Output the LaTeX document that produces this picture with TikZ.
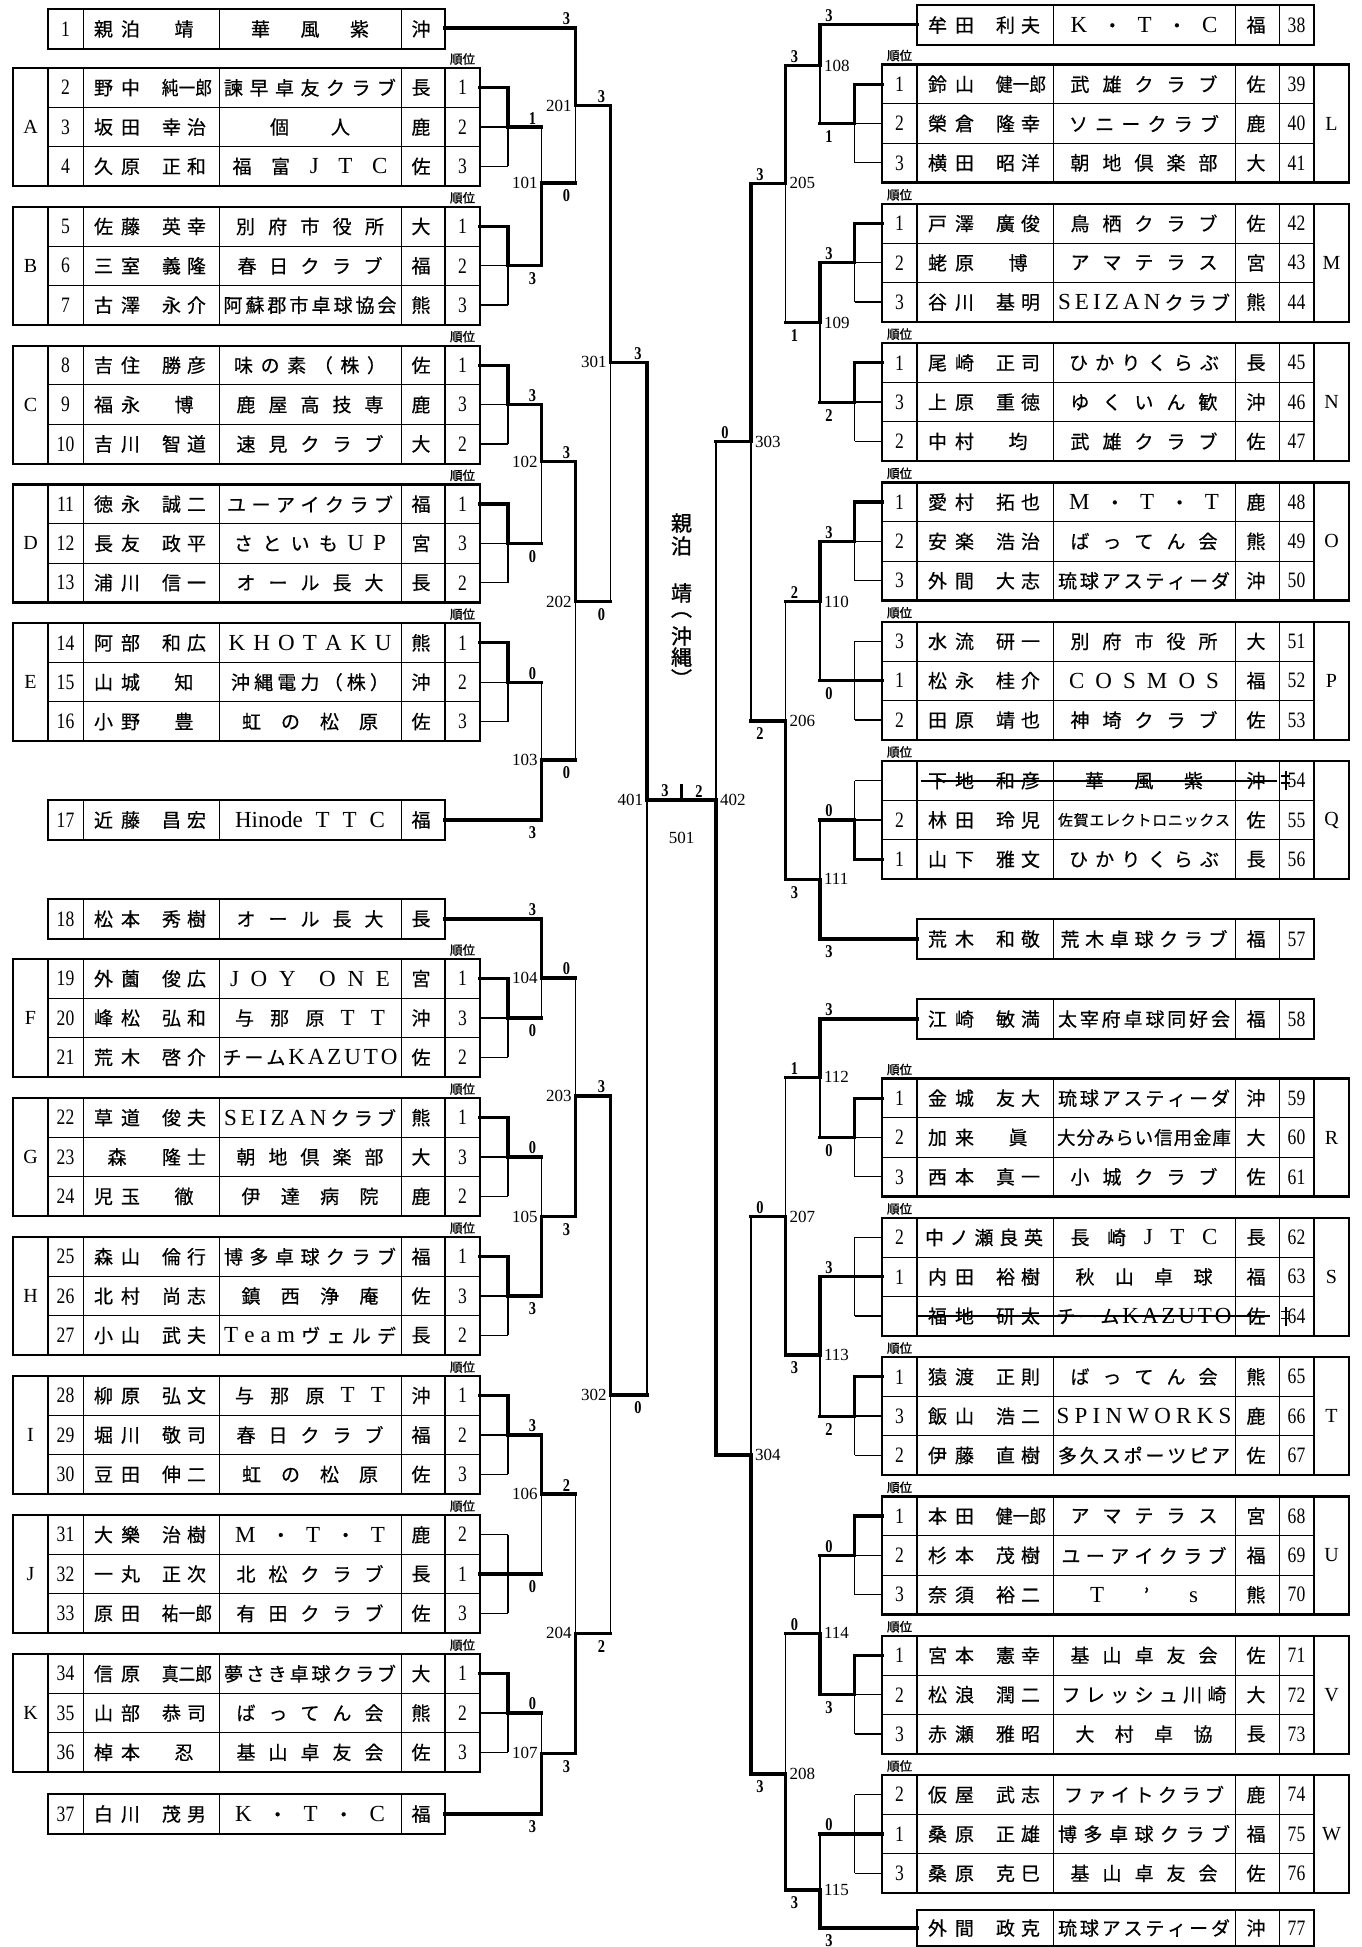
\documentclass[tikz,border=0pt]{standalone}
\usepackage{fontspec}
\setmainfont{Liberation Serif}
\newfontfamily\jpfam[FakeBold=0.5]{Noto Sans CJK JP}
\newfontfamily\jpnarrow[FakeStretch=0.88,FakeBold=0.5]{Noto Sans CJK JP}
\newfontfamily\jpbfam[FakeBold=1.2]{Noto Sans CJK JP}
\newfontfamily\numfam[FakeStretch=0.8]{Liberation Serif}
\newfontfamily\latfam{Liberation Serif}
\newcommand\JP{\jpfam\fontsize{19pt}{19pt}\selectfont}
\newcommand\JPB{\jpbfam\fontsize{21pt}{21pt}\selectfont}
\newcommand\JU{\jpbfam\fontsize{12.5pt}{13pt}\selectfont}
\newcommand\NUM{\numfam\fontsize{22pt}{22pt}\selectfont}
\newcommand\SCO{\numfam\bfseries\fontsize{18pt}{18pt}\selectfont}
\newcommand\MNO{\latfam\fontsize{17pt}{17pt}\selectfont}
\newcommand\LET{\latfam\fontsize{20pt}{20pt}\selectfont}
\newcommand\lt[1]{{\latfam\fontsize{23pt}{23pt}\selectfont #1}}
\newcommand\one[1]{\hfil #1\hfil}
\makeatletter
\def\sp#1{\sp@a#1|\relax|}
\def\sp@a#1|{#1\sp@b}
\def\sp@b#1|{\ifx\relax#1\else\hfil #1\expandafter\sp@b\fi}
\makeatother
\newcommand\nm[2]{\hbox to 136pt{\hskip 11pt\hbox to 46pt{\sp{#1}}\hfil\hbox to 44pt{\sp{#2}}\hskip 13pt}}
\newcommand\nmc[2]{\hbox to 136pt{\hskip 11pt\hbox to 46pt{\sp{#1}}\hfil{\jpnarrow\fontsize{19pt}{19pt}\selectfont #2}\hskip 7pt}}
\newcommand\nmw[1]{\hbox to 136pt{\hskip 8pt\hbox to 118pt{\sp{#1}}\hss}}
\newcommand\cs[2]{\hbox to #1pt{\sp{#2}}}
\tikzset{
 every node/.style={inner sep=0pt,outer sep=0pt},
 tx/.style={font=\JP},
 nu/.style={font=\NUM},
 le/.style={font=\LET},
 sc/.style={font=\SCO},
 mn/.style={font=\MNO},
 ju/.style={font=\JU},
 frame/.style={line width=2.2pt},
 inner/.style={line width=1pt},
 mid/.style={line width=1.7pt},
 win/.style={line width=3.2pt,line cap=rect},
 lose/.style={line width=1.3pt},
 strike/.style={line width=1.8pt}
}
% left group frame
\newcommand\LG[2]{%
 \draw[inner] (48,#1+39.33) -- (480,#1+39.33) (48,#1+78.67) -- (480,#1+78.67)
   (83,#1) -- (83,#1+118) (219,#1) -- (219,#1+118) (401,#1) -- (401,#1+118);
 \draw[mid] (48,#1) -- (48,#1+118) (445,#1) -- (445,#1+118);
 \draw[frame] (13,#1) rectangle (480,#1+118);
 \node[le] (grp#2) at (30.5,#1+59) {#2};
 \node[ju] (ju#2) at (462.5,#1-9) {順位};}
\newcommand\LR[6]{%
 \node[nu] (num#2) at (65.5,#1) {#2};
 \node[tx] (name#2) at (151,#1) {#3};
 \node[tx] (club#2) at (310,#1) {#4};
 \node[tx] (pref#2) at (421,#1) {#5};
 \node[nu] (rank#2) at (462.5,#1) {#6};}
\newcommand\LS[5]{%
 \draw[inner] (83,#1) -- (83,#1+40) (219,#1) -- (219,#1+40) (401,#1) -- (401,#1+40);
 \draw[frame] (48,#1) rectangle (445,#1+40);
 \node[nu] (num#2) at (65.5,#1+20) {#2};
 \node[tx] (name#2) at (151,#1+20) {#3};
 \node[tx] (club#2) at (310,#1+20) {#4};
 \node[tx] (pref#2) at (421,#1+20) {#5};}
% right group frame
\newcommand\RG[2]{%
 \draw[inner] (882,#1+39.33) -- (1314,#1+39.33) (882,#1+78.67) -- (1314,#1+78.67)
   (1053,#1) -- (1053,#1+118) (1235,#1) -- (1235,#1+118) (1279,#1) -- (1279,#1+118);
 \draw[mid] (917,#1) -- (917,#1+118) (1314,#1) -- (1314,#1+118);
 \draw[frame] (882,#1) rectangle (1349,#1+118);
 \node[le] (grp#2) at (1331.5,#1+59) {#2};
 \node[ju] (ju#2) at (899.5,#1-9) {順位};}
\newcommand\RR[6]{%
 \node[nu] (rank#6) at (899.5,#1) {#2};
 \node[tx] (name#6) at (985,#1) {#3};
 \node[tx] (club#6) at (1144,#1) {#4};
 \node[tx] (pref#6) at (1256,#1) {#5};
 \node[nu] (num#6) at (1296.5,#1) {#6};}
\newcommand\RS[6][40]{%
 \draw[inner] (1053,#2) -- (1053,#2+#1) (1235,#2) -- (1235,#2+#1) (1279,#2) -- (1279,#2+#1);
 \draw[frame] (917,#2) rectangle (1314,#2+#1);
 \node[tx] (name#6) at (985,#2+#1/2) {#3};
 \node[tx] (club#6) at (1144,#2+#1/2) {#4};
 \node[tx] (pref#6) at (1256,#2+#1/2) {#5};
 \node[nu] (num#6) at (1296.5,#2+#1/2) {#6};}
% group brackets
\newcommand\GL[2]{%
 \draw[lose] (480,#1+19.67) -- (508,#1+19.67) (480,#1+59) -- (508,#1+59)
   (480,#1+98.33) -- (508,#1+98.33) (508,#1+19.67) -- (508,#1+98.33);
 \draw[win] (480,#1+#2) -- (508,#1+#2) -- (508,#1+59) -- (541.5,#1+59);}
\newcommand\GR[2]{%
 \draw[lose] (882,#1+19.67) -- (854.5,#1+19.67) (882,#1+59) -- (854.5,#1+59)
   (882,#1+98.33) -- (854.5,#1+98.33) (854.5,#1+19.67) -- (854.5,#1+98.33);
 \draw[win] (882,#1+#2) -- (854.5,#1+#2) -- (854.5,#1+59) -- (820,#1+59);}
% matches: vx, ytop, yout, ybottom, next x
\newcommand\Mt[5]{\draw[lose] (#1,#3) -- (#1,#4); \draw[win] (#1,#2) -- (#1,#3) -- (#5,#3);}
\newcommand\Mb[5]{\draw[lose] (#1,#2) -- (#1,#3); \draw[win] (#1,#4) -- (#1,#3) -- (#5,#3);}
\newcommand\Sa[3]{\node[sc,anchor=south] at (#1,#2-3) {#3};}
\newcommand\Sb[3]{\node[sc,anchor=north] at (#1,#2+7) {#3};}
\newcommand\ML[3]{\node[mn,anchor=east] (m#3) at (#1-4,#2) {#3};}
\newcommand\MR[3]{\node[mn,anchor=west] (m#3) at (#1+4,#2) {#3};}
\begin{document}
\begin{tikzpicture}[x=1pt,y=-1pt]
\path[use as bounding box,fill=white] (0,0) rectangle (1362,1947);

%================ LEFT TABLES ================
\LS{9}{1}{\nm{親|泊}{\one{靖}}}{\cs{118}{華|風|紫}}{沖}
\LG{68}{A}
\LR{87.67}{2}{\nmc{野|中}{純一郎}}{\cs{172}{諫|早|卓|友|ク|ラ|ブ}}{長}{1}
\LR{127}{3}{\nm{坂|田}{幸|治}}{\cs{80}{個|人}}{鹿}{2}
\LR{166.33}{4}{\nm{久|原}{正|和}}{\cs{155}{福|富|\lt{J}|\lt{T}|\lt{C}}}{佐}{3}
\LG{206.8}{B}
\LR{226.47}{5}{\nm{佐|藤}{英|幸}}{\cs{148}{別|府|市|役|所}}{大}{1}
\LR{265.8}{6}{\nm{三|室}{義|隆}}{\cs{145}{春|日|ク|ラ|ブ}}{福}{2}
\LR{305.13}{7}{\nm{古|澤}{永|介}}{\cs{173}{阿|蘇|郡|市|卓|球|協|会}}{熊}{3}
\LG{345.6}{C}
\LR{365.27}{8}{\nm{吉|住}{勝|彦}}{\cs{152}{味|の|素|（|株|）}}{佐}{1}
\LR{404.6}{9}{\nm{福|永}{\one{博}}}{\cs{147}{鹿|屋|高|技|専}}{鹿}{3}
\LR{443.93}{10}{\nm{吉|川}{智|道}}{\cs{147}{速|見|ク|ラ|ブ}}{大}{2}
\LG{484.4}{D}
\LR{504.07}{11}{\nm{徳|永}{誠|二}}{\cs{166}{ユ|ー|ア|イ|ク|ラ|ブ}}{福}{1}
\LR{543.4}{12}{\nm{長|友}{政|平}}{\cs{152}{さ|と|い|も|\lt{U}|\lt{P}}}{宮}{3}
\LR{582.73}{13}{\nm{浦|川}{信|一}}{\cs{147}{オ|ー|ル|長|大}}{長}{2}
\LG{623.2}{E}
\LR{642.87}{14}{\nm{阿|部}{和|広}}{\cs{163}{\lt{K}|\lt{H}|\lt{O}|\lt{T}|\lt{A}|\lt{K}|\lt{U}}}{熊}{1}
\LR{682.2}{15}{\nm{山|城}{\one{知}}}{\cs{158}{沖|縄|電|力|（|株|）}}{沖}{2}
\LR{721.53}{16}{\nm{小|野}{\one{豊}}}{\cs{136}{虹|の|松|原}}{佐}{3}
\LS{800}{17}{\nm{近|藤}{昌|宏}}{\cs{150}{\lt{Hinode}|\lt{T}|\lt{T}|\lt{C}}}{福}
\LS{899}{18}{\nm{松|本}{秀|樹}}{\cs{147}{オ|ー|ル|長|大}}{長}
\LG{959}{F}
\LR{978.67}{19}{\nm{外|薗}{俊|広}}{\cs{160}{\lt{J}|\lt{O}|\lt{Y}|\null|\lt{O}|\lt{N}|\lt{E}}}{宮}{1}
\LR{1018}{20}{\nm{峰|松}{弘|和}}{\cs{150}{与|那|原|\lt{T}|\lt{T}}}{沖}{3}
\LR{1057.33}{21}{\nm{荒|木}{啓|介}}{\cs{175}{チ|ー|ム|\lt{K}|\lt{A}|\lt{Z}|\lt{U}|\lt{T}|\lt{O}}}{佐}{2}
\LG{1098}{G}
\LR{1117.67}{22}{\nm{草|道}{俊|夫}}{\cs{172}{\lt{S}|\lt{E}|\lt{I}|\lt{Z}|\lt{A}|\lt{N}|ク|ラ|ブ}}{熊}{1}
\LR{1157}{23}{\nm{\one{森}}{隆|士}}{\cs{147}{朝|地|倶|楽|部}}{大}{3}
\LR{1196.33}{24}{\nm{児|玉}{\one{徹}}}{\cs{137}{伊|達|病|院}}{鹿}{2}
\LG{1237}{H}
\LR{1256.67}{25}{\nm{森|山}{倫|行}}{\cs{172}{博|多|卓|球|ク|ラ|ブ}}{福}{1}
\LR{1296}{26}{\nm{北|村}{尚|志}}{\cs{137}{鎮|西|浄|庵}}{佐}{3}
\LR{1335.33}{27}{\nm{小|山}{武|夫}}{\cs{172}{\lt{T}|\lt{e}|\lt{a}|\lt{m}|ヴ|ェ|ル|デ}}{長}{2}
\LG{1376}{I}
\LR{1395.67}{28}{\nm{柳|原}{弘|文}}{\cs{150}{与|那|原|\lt{T}|\lt{T}}}{沖}{1}
\LR{1435}{29}{\nm{堀|川}{敬|司}}{\cs{147}{春|日|ク|ラ|ブ}}{福}{2}
\LR{1474.33}{30}{\nm{豆|田}{伸|二}}{\cs{136}{虹|の|松|原}}{佐}{3}
\LG{1515}{J}
\LR{1534.67}{31}{\nm{大|樂}{治|樹}}{\cs{150}{\lt{M}|・|\lt{T}|・|\lt{T}}}{鹿}{2}
\LR{1574}{32}{\nm{一|丸}{正|次}}{\cs{147}{北|松|ク|ラ|ブ}}{長}{1}
\LR{1613.33}{33}{\nmc{原|田}{祐一郎}}{\cs{147}{有|田|ク|ラ|ブ}}{佐}{3}
\LG{1654}{K}
\LR{1673.67}{34}{\nmc{信|原}{真二郎}}{\cs{172}{夢|さ|き|卓|球|ク|ラ|ブ}}{大}{1}
\LR{1713}{35}{\nm{山|部}{恭|司}}{\cs{147}{ば|っ|て|ん|会}}{熊}{2}
\LR{1752.33}{36}{\nm{棹|本}{\one{忍}}}{\cs{147}{基|山|卓|友|会}}{佐}{3}
\LS{1794}{37}{\nm{白|川}{茂|男}}{\cs{150}{\lt{K}|・|\lt{T}|・|\lt{C}}}{福}

%================ RIGHT TABLES ================
\RS{5}{\nm{牟|田}{利|夫}}{\cs{147}{\lt{K}|・|\lt{T}|・|\lt{C}}}{福}{38}
\RG{64.5}{L}
\RR{84.17}{1}{\nmc{鈴|山}{健一郎}}{\cs{147}{武|雄|ク|ラ|ブ}}{佐}{39}
\RR{123.5}{2}{\nm{榮|倉}{隆|幸}}{\cs{150}{ソ|ニ|ー|ク|ラ|ブ}}{鹿}{40}
\RR{162.83}{3}{\nm{横|田}{昭|洋}}{\cs{147}{朝|地|倶|楽|部}}{大}{41}
\RG{203.8}{M}
\RR{223.47}{1}{\nm{戸|澤}{廣|俊}}{\cs{147}{鳥|栖|ク|ラ|ブ}}{佐}{42}
\RR{262.8}{2}{\nm{蛯|原}{\one{博}}}{\cs{147}{ア|マ|テ|ラ|ス}}{宮}{43}
\RR{302.13}{3}{\nm{谷|川}{基|明}}{\cs{172}{\lt{S}|\lt{E}|\lt{I}|\lt{Z}|\lt{A}|\lt{N}|ク|ラ|ブ}}{熊}{44}
\RG{343.1}{N}
\RR{362.77}{1}{\nm{尾|崎}{正|司}}{\cs{150}{ひ|か|り|く|ら|ぶ}}{長}{45}
\RR{402.1}{3}{\nm{上|原}{重|徳}}{\cs{147}{ゆ|く|い|ん|歓}}{沖}{46}
\RR{441.43}{2}{\nm{中|村}{\one{均}}}{\cs{147}{武|雄|ク|ラ|ブ}}{佐}{47}
\RG{482.4}{O}
\RR{502.07}{1}{\nm{愛|村}{拓|也}}{\cs{150}{\lt{M}|・|\lt{T}|・|\lt{T}}}{鹿}{48}
\RR{541.4}{2}{\nm{安|楽}{浩|治}}{\cs{147}{ば|っ|て|ん|会}}{熊}{49}
\RR{580.73}{3}{\nm{外|間}{大|志}}{\cs{172}{琉|球|ア|ス|テ|ィ|ー|ダ}}{沖}{50}
\RG{621.7}{P}
\RR{641.37}{3}{\nm{水|流}{研|一}}{\cs{147}{別|府|市|役|所}}{大}{51}
\RR{680.7}{1}{\nm{松|永}{桂|介}}{\cs{150}{\lt{C}|\lt{O}|\lt{S}|\lt{M}|\lt{O}|\lt{S}}}{福}{52}
\RR{720.03}{2}{\nm{田|原}{靖|也}}{\cs{147}{神|埼|ク|ラ|ブ}}{佐}{53}
\RG{761}{Q}
\RR{780.67}{}{\nm{下|地}{和|彦}}{\cs{118}{華|風|紫}}{沖}{54}
\RR{820}{2}{\nm{林|田}{玲|児}}{{\jpfam\fontsize{15pt}{15pt}\selectfont\cs{172}{佐|賀|エ|レ|ク|ト|ロ|ニ|ッ|ク|ス}}}{佐}{55}
\RR{859.33}{1}{\nm{山|下}{雅|文}}{\cs{150}{ひ|か|り|く|ら|ぶ}}{長}{56}
\draw[strike] (921,780.67) -- (1277,780.67);
\draw[line width=1.1pt] (1281,776) -- (1290,776) (1281,783) -- (1290,783) (1286,771) -- (1286,790);
\RS{919}{\nm{荒|木}{和|敬}}{\cs{167}{荒|木|卓|球|ク|ラ|ブ}}{福}{57}
\RS{999}{\nm{江|崎}{敏|満}}{\cs{172}{太|宰|府|卓|球|同|好|会}}{福}{58}
\RG{1078.5}{R}
\RR{1098.17}{1}{\nm{金|城}{友|大}}{\cs{172}{琉|球|ア|ス|テ|ィ|ー|ダ}}{沖}{59}
\RR{1137.5}{2}{\nm{加|来}{\one{眞}}}{{\jpfam\fontsize{18.5pt}{19pt}\selectfont\cs{174}{大|分|み|ら|い|信|用|金|庫}}}{大}{60}
\RR{1176.83}{3}{\nm{西|本}{真|一}}{\cs{147}{小|城|ク|ラ|ブ}}{佐}{61}
\RG{1217.8}{S}
\RR{1237.47}{2}{\nmw{中|ノ|瀬|良|英}}{\cs{147}{長|崎|\lt{J}|\lt{T}|\lt{C}}}{長}{62}
\RR{1276.8}{1}{\nm{内|田}{裕|樹}}{\cs{137}{秋|山|卓|球}}{福}{63}
\RR{1316.13}{}{\nm{福|地}{研|太}}{\cs{175}{チ|ー|ム|\lt{K}|\lt{A}|\lt{Z}|\lt{U}|\lt{T}|\lt{O}}}{佐}{64}
\draw[strike] (917,1316.13) -- (1270,1316.13);
\draw[line width=1.1pt] (1281,1311.5) -- (1290,1311.5) (1281,1318.5) -- (1290,1318.5) (1286,1306.5) -- (1286,1325.5);
\RG{1357.1}{T}
\RR{1376.77}{1}{\nm{猿|渡}{正|則}}{\cs{147}{ば|っ|て|ん|会}}{熊}{65}
\RR{1416.1}{3}{\nm{飯|山}{浩|二}}{\cs{175}{\lt{S}|\lt{P}|\lt{I}|\lt{N}|\lt{W}|\lt{O}|\lt{R}|\lt{K}|\lt{S}}}{鹿}{66}
\RR{1455.43}{2}{\nm{伊|藤}{直|樹}}{\cs{172}{多|久|ス|ポ|ー|ツ|ピ|ア}}{佐}{67}
\RG{1496.4}{U}
\RR{1516.07}{1}{\nmc{本|田}{健一郎}}{\cs{147}{ア|マ|テ|ラ|ス}}{宮}{68}
\RR{1555.4}{2}{\nm{杉|本}{茂|樹}}{\cs{165}{ユ|ー|ア|イ|ク|ラ|ブ}}{福}{69}
\RR{1594.73}{3}{\nm{奈|須}{裕|二}}{\cs{108}{\lt{T}|’|\lt{s}}}{熊}{70}
\RG{1635.7}{V}
\RR{1655.37}{1}{\nm{宮|本}{憲|幸}}{\cs{147}{基|山|卓|友|会}}{佐}{71}
\RR{1694.7}{2}{\nm{松|浪}{潤|二}}{\cs{165}{フ|レ|ッ|シ|ュ|川|崎}}{大}{72}
\RR{1734.03}{3}{\nm{赤|瀬}{雅|昭}}{\cs{137}{大|村|卓|協}}{長}{73}
\RG{1775}{W}
\RR{1794.67}{2}{\nm{仮|屋}{武|志}}{\cs{160}{フ|ァ|イ|ト|ク|ラ|ブ}}{鹿}{74}
\RR{1834}{1}{\nm{桑|原}{正|雄}}{\cs{172}{博|多|卓|球|ク|ラ|ブ}}{福}{75}
\RR{1873.33}{3}{\nm{桑|原}{克|巳}}{\cs{147}{基|山|卓|友|会}}{佐}{76}
\RS[36]{1910}{\nm{外|間}{政|克}}{\cs{172}{琉|球|ア|ス|テ|ィ|ー|ダ}}{沖}{77}

%================ LEFT BRACKET ================
\GL{68}{19.67}
\GL{206.8}{19.67}
\GL{345.6}{19.67}
\GL{484.4}{19.67}
\GL{623.2}{19.67}
\GL{959}{19.67}
\GL{1098}{19.67}
\GL{1237}{19.67}
\GL{1376}{19.67}
\GL{1515}{59}
\GL{1654}{19.67}
\draw[win] (445,28) -- (575.5,28);
\draw[win] (445,820) -- (541.5,820);
\draw[win] (445,919) -- (541.5,919);
\draw[win] (445,1814) -- (541.5,1814);
\Mb{541.5}{127}{183}{265.8}{575.5}
\Mt{575.5}{28}{105.5}{183}{610.5}
\Mt{541.5}{404.6}{461.7}{543.4}{575.5}
\Mb{541.5}{682.2}{760}{820}{575.5}
\Mt{575.5}{461.7}{601.7}{760}{610.5}
\Mt{610.5}{105.5}{362.3}{601.7}{647}
\Mt{541.5}{919}{978}{1018}{575.5}
\Mb{541.5}{1157}{1216.7}{1296}{575.5}
\Mb{575.5}{978}{1096}{1216.7}{610.5}
\Mt{541.5}{1435}{1494}{1574}{575.5}
\Mb{541.5}{1713}{1753.3}{1814}{575.5}
\Mb{575.5}{1494}{1633.3}{1753.3}{610.5}
\Mt{610.5}{1096}{1395}{1633.3}{647}
\Mt{647}{362.3}{800}{1395}{681.5}

\Sa{532.5}{127}{1}\Sb{532.5}{265.8}{3}\ML{541.5}{183}{101}
\Sa{566.5}{28}{3}\Sb{566.5}{183}{0}\ML{575.5}{105.5}{201}
\Sa{532.5}{404.6}{3}\Sb{532.5}{543.4}{0}\ML{541.5}{461.7}{102}
\Sa{532.5}{682.2}{0}\Sb{532.5}{820}{3}\ML{541.5}{760}{103}
\Sa{566.5}{461.7}{3}\Sb{566.5}{760}{0}\ML{575.5}{601.7}{202}
\Sa{601.5}{105.5}{3}\Sb{601.5}{601.7}{0}\ML{610.5}{362.3}{301}
\Sa{532.5}{919}{3}\Sb{532.5}{1018}{0}\ML{541.5}{978}{104}
\Sa{532.5}{1157}{0}\Sb{532.5}{1296}{3}\ML{541.5}{1216.7}{105}
\Sa{566.5}{978}{0}\Sb{566.5}{1216.7}{3}\ML{575.5}{1096}{203}
\Sa{532.5}{1435}{3}\Sb{532.5}{1574}{0}\ML{541.5}{1494}{106}
\Sa{532.5}{1713}{0}\Sb{532.5}{1814}{3}\ML{541.5}{1753.3}{107}
\Sa{566.5}{1494}{2}\Sb{566.5}{1753.3}{3}\ML{575.5}{1633.3}{204}
\Sa{601.5}{1096}{3}\Sb{601.5}{1633.3}{2}\ML{610.5}{1395}{302}
\Sa{638}{362.3}{3}\Sb{638}{1395}{0}\ML{647}{800}{401}

%================ RIGHT BRACKET ================
\GR{64.5}{19.67}
\GR{203.8}{19.67}
\GR{343.1}{19.67}
\GR{482.4}{19.67}
\GR{621.7}{59}
\GR{761}{98.33}
\GR{1078.5}{19.67}
\GR{1217.8}{59}
\GR{1357.1}{19.67}
\GR{1496.4}{19.67}
\GR{1635.7}{19.67}
\GR{1775}{59}
\draw[win] (917,24.5) -- (820,24.5);
\draw[win] (917,939) -- (820,939);
\draw[win] (917,1019) -- (820,1019);
\draw[win] (917,1928) -- (820,1928);
\Mt{820}{24.5}{65.7}{123.5}{785.5}
\Mt{820}{262.8}{322.7}{402.1}{785.5}
\Mt{785.5}{65.7}{183.3}{322.7}{751}
\Mt{820}{541.4}{601.7}{680.7}{785.5}
\Mb{820}{820}{879.3}{939}{785.5}
\Mb{785.5}{601.7}{721}{879.3}{751}
\Mt{751}{183.3}{441.7}{721}{716}
\Mt{820}{1019}{1077.3}{1137.5}{785.5}
\Mt{820}{1276.8}{1355}{1416.1}{785.5}
\Mb{785.5}{1077.3}{1216.7}{1355}{751}
\Mb{820}{1555.4}{1633.3}{1694.7}{785.5}
\Mb{820}{1834}{1890}{1928}{785.5}
\Mb{785.5}{1633.3}{1774}{1890}{751}
\Mb{751}{1216.7}{1455}{1774}{716}
\Mb{716}{441.7}{800}{1455}{681.5}

\Sa{829}{24.5}{3}\Sb{829}{123.5}{1}\MR{820}{65.7}{108}
\Sa{829}{262.8}{3}\Sb{829}{402.1}{2}\MR{820}{322.7}{109}
\Sa{794.5}{65.7}{3}\Sb{794.5}{322.7}{1}\MR{785.5}{183.3}{205}
\Sa{829}{541.4}{3}\Sb{829}{680.7}{0}\MR{820}{601.7}{110}
\Sa{829}{820}{0}\Sb{829}{939}{3}\MR{820}{879.3}{111}
\Sa{794.5}{601.7}{2}\Sb{794.5}{879.3}{3}\MR{785.5}{721}{206}
\Sa{760}{183.3}{3}\Sb{760}{721}{2}\MR{751}{441.7}{303}
\Sa{829}{1019}{3}\Sb{829}{1137.5}{0}\MR{820}{1077.3}{112}
\Sa{829}{1276.8}{3}\Sb{829}{1416.1}{2}\MR{820}{1355}{113}
\Sa{794.5}{1077.3}{1}\Sb{794.5}{1355}{3}\MR{785.5}{1216.7}{207}
\Sa{829}{1555.4}{0}\Sb{829}{1694.7}{3}\MR{820}{1633.3}{114}
\Sa{829}{1834}{0}\Sb{829}{1928}{3}\MR{820}{1890}{115}
\Sa{794.5}{1633.3}{0}\Sb{794.5}{1890}{3}\MR{785.5}{1774}{208}
\Sa{760}{1216.7}{0}\Sb{760}{1774}{3}\MR{751}{1455}{304}
\Sa{725}{441.7}{0}\MR{716}{800}{402}

%================ FINAL ================
\draw[win] (681.5,786) -- (681.5,800);
\Sa{665}{800}{3}
\Sa{699}{800}{2}
\node[mn] (m501) at (681.5,838) {501};
\node[font=\JPB] (c1) at (681.5,523) {親};
\node[font=\JPB] (c2) at (681.5,546) {泊};
\node[font=\JPB] (c3) at (681.5,593) {靖};
\node[font=\JPB] (c4) at (681.5,615) {︵};
\node[font=\JPB] (c5) at (681.5,636) {沖};
\node[font=\JPB] (c6) at (681.5,657) {縄};
\node[font=\JPB] (c7) at (681.5,678) {︶};
\end{tikzpicture}
\end{document}
